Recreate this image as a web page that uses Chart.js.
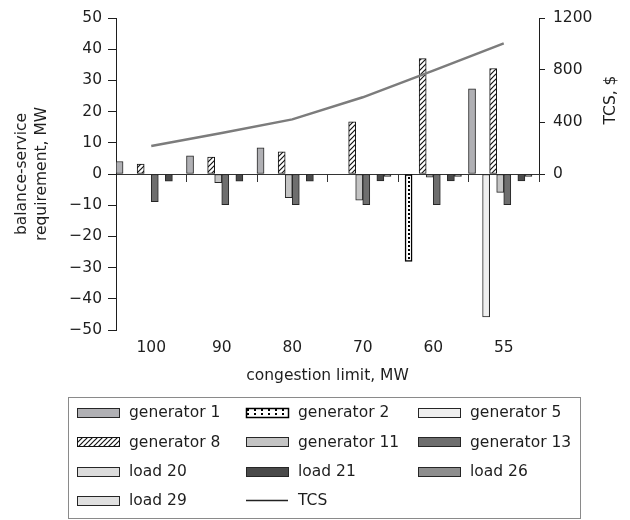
<!DOCTYPE html>
<html>
<head>
<meta charset="utf-8">
<script src="https://cdn.jsdelivr.net/npm/chart.js@4/dist/chart.umd.min.js"></script>
<style>
  html, body { margin: 0; padding: 0; background: #ffffff; }
  canvas { display: block; }
</style>
</head>
<body>
<canvas id="chart" width="630" height="520"></canvas>
<script>
// Congestion limits on the category axis
const categories = ['100', '90', '80', '70', '60', '55'];

// Balance-service requirement per unit, MW
const generator1  = [4.0, 5.8, 8.4, 0, 0, 27.3];
const generator2  = [0, 0, 0, 0, -28.0, 0];
const generator5  = [0, 0, 0, 0, 0, -45.8];
const generator8  = [3.2, 5.4, 7.1, 16.7, 37.0, 33.8];
const generator11 = [0, -2.8, -7.6, -8.4, -1.0, -5.9];
const generator13 = [-8.9, -9.8, -9.8, -9.8, -9.8, -9.8];
const load20      = [0, 0, 0, 0, 0, 0];
const load21      = [-2.3, -2.3, -2.3, -2.2, -2.2, -2.2];
const load26      = [0, 0, 0, -0.8, -0.8, -0.8];
const load29      = [0, 0, 0, 0, 0, 0];

// Total congestion cost, $
const tcs = [215, 315, 420, 590, 795, 1005];

// Axis tick values
const leftTicks  = [-50, -40, -30, -20, -10, 0, 10, 20, 30, 40, 50];
const rightTicks = [0, 400, 800, 1200];

const FONT = 'DejaVu Sans';
const INK = '#1e1e1e';

const canvas = document.getElementById('chart');
const ctx = canvas.getContext('2d');

// Diagonal hatch fill
const hatchFill = (() => {
  const s = 5;
  const t = document.createElement('canvas');
  t.width = s; t.height = s;
  const g = t.getContext('2d');
  g.fillStyle = '#ffffff'; g.fillRect(0, 0, s, s);
  g.strokeStyle = '#151515'; g.lineWidth = 1.2;
  g.beginPath();
  g.moveTo(-1, s + 1); g.lineTo(s + 1, -1);
  g.moveTo(-1, 1); g.lineTo(1, -1);
  g.moveTo(s - 1, s + 1); g.lineTo(s + 1, s - 1);
  g.stroke();
  return ctx.createPattern(t, 'repeat');
})();

// Dotted fill
const dotFill = (() => {
  const t = document.createElement('canvas');
  t.width = 7; t.height = 4;
  const g = t.getContext('2d');
  g.fillStyle = '#ffffff'; g.fillRect(0, 0, 7, 4);
  g.fillStyle = '#000000'; g.fillRect(2, 1, 2, 2);
  return ctx.createPattern(t, 'repeat');
})();

function barSet(label, data, fill, extra) {
  return Object.assign({
    type: 'bar',
    label: label,
    data: data,
    backgroundColor: fill,
    borderColor: '#262626',
    borderWidth: 1,
    borderSkipped: false,
    xAxisID: 'x',
    yAxisID: 'y',
    order: 1
  }, extra || {});
}

const datasets = [
  barSet('generator 1', generator1, '#b0b0b4'),
  barSet('generator 2', generator2, dotFill, { borderColor: '#000000', borderWidth: 1.5 }),
  barSet('generator 5', generator5, '#efefef'),
  barSet('generator 8', generator8, hatchFill, { borderColor: '#111111' }),
  barSet('generator 11', generator11, '#c4c4c4'),
  barSet('generator 13', generator13, '#6e6e6e'),
  barSet('load 20', load20, '#dcdcdc'),
  barSet('load 21', load21, '#4a4a4a'),
  barSet('load 26', load26, '#8e8e8e'),
  barSet('load 29', load29, '#e0e0e0'),
  {
    type: 'line',
    label: 'TCS',
    data: tcs,
    borderColor: '#7c7c7c',
    borderWidth: 2.5,
    pointRadius: 0,
    tension: 0,
    fill: false,
    xAxisID: 'x',
    yAxisID: 'y1',
    order: 0
  }
];

// Legend block geometry (3 columns x 4 rows)
const legendBox = { left: 68, top: 397, right: 580, bottom: 518 };
const legendCols = [77, 246, 418];
const legendRows = [412, 441.5, 471, 500];
const swatchW = 42, swatchH = 9, swatchGap = 10;

const decorations = {
  id: 'decorations',
  afterDraw(chart) {
    const c = chart.ctx;
    const y1 = chart.scales.y1;
    const topPx = y1.getPixelForValue(rightTicks[rightTicks.length - 1]);
    const zeroPx = y1.getPixelForValue(rightTicks[0]);

    c.save();
    // secondary axis spine, only over its positive range
    c.strokeStyle = INK; c.lineWidth = 1;
    const ax = Math.round(y1.left) + 0.5;
    c.beginPath(); c.moveTo(ax, topPx); c.lineTo(ax, zeroPx); c.stroke();

    // secondary axis title
    c.fillStyle = INK;
    c.font = '15.5px "' + FONT + '"';
    c.textAlign = 'center'; c.textBaseline = 'middle';
    c.save();
    c.translate(y1.right + 16, (topPx + zeroPx) / 2 + 4);
    c.rotate(-Math.PI / 2);
    c.fillText('TCS, $', 0, 0);
    c.restore();

    // legend frame
    c.strokeStyle = '#8a8a8a'; c.lineWidth = 1;
    c.strokeRect(legendBox.left + 0.5, legendBox.top + 0.5,
                 legendBox.right - legendBox.left, legendBox.bottom - legendBox.top);

    c.textAlign = 'left';
    chart.data.datasets.forEach((ds, i) => {
      const col = i % 3, row = Math.floor(i / 3);
      const x = legendCols[col], yc = legendRows[row];
      if (ds.type === 'line') {
        c.strokeStyle = '#222222'; c.lineWidth = 1.3;
        c.beginPath(); c.moveTo(x, yc + 0.5); c.lineTo(x + swatchW, yc + 0.5); c.stroke();
      } else {
        const sx = Math.round(x) + 0.5, sy = Math.round(yc - swatchH / 2) + 0.5;
        c.fillStyle = ds.backgroundColor;
        c.fillRect(sx, sy, swatchW, swatchH);
        c.strokeStyle = ds.borderColor; c.lineWidth = ds.borderWidth;
        c.strokeRect(sx, sy, swatchW, swatchH);
      }
      c.fillStyle = INK;
      c.fillText(ds.label, x + swatchW + swatchGap, yc + 1);
    });
    c.restore();
  }
};

const minus = v => (v < 0 ? '\u2212' + Math.abs(v) : String(v));

new Chart(canvas, {
  data: { labels: categories, datasets: datasets },
  options: {
    responsive: false,
    devicePixelRatio: 1,
    animation: false,
    layout: { padding: { left: 0, right: 35, top: 18, bottom: 130 } },
    font: { family: FONT, size: 15.5 },
    color: INK,
    plugins: {
      legend: { display: false },
      tooltip: { enabled: false }
    },
    scales: {
      x: {
        type: 'category',
        position: 'bottom',
        offset: true,
        grid: { display: false, drawTicks: false },
        border: { display: false },
        ticks: { color: INK, padding: 9, maxRotation: 0, font: { family: FONT, size: 15.5 } },
        title: {
          display: true, text: 'congestion limit, MW', color: INK,
          font: { family: FONT, size: 15.5 }, padding: { top: 0, bottom: 5 }
        },
        afterFit(scale) { scale.height = 60; }
      },
      x2: {
        type: 'category',
        labels: categories,
        position: { y: 0 },
        offset: true,
        grid: { offset: true, drawOnChartArea: false, drawTicks: true, tickLength: 7, color: '#333333', lineWidth: 1 },
        border: { display: true, color: '#333333', width: 1 },
        ticks: { display: false },
        afterFit(scale) { scale.height = 0; }
      },
      y: {
        type: 'linear',
        position: 'left',
        min: leftTicks[0],
        max: leftTicks[leftTicks.length - 1],
        afterBuildTicks(scale) { scale.ticks = leftTicks.map(v => ({ value: v })); },
        grid: { drawOnChartArea: false, drawTicks: true, tickLength: 8, color: INK },
        border: { display: true, color: INK, width: 1 },
        ticks: { color: INK, padding: 6, callback: minus, font: { family: FONT, size: 15.5 } },
        title: {
          display: true,
          text: ['balance-service', 'requirement, MW'],
          color: INK,
          font: { family: FONT, size: 15.5, lineHeight: 1.29 },
          padding: { top: 12, bottom: 0 }
        },
        afterFit(scale) { scale.width = 116; }
      },
      y1: {
        type: 'linear',
        position: 'right',
        min: -rightTicks[rightTicks.length - 1],
        max: rightTicks[rightTicks.length - 1],
        afterBuildTicks(scale) { scale.ticks = rightTicks.map(v => ({ value: v })); },
        grid: { drawOnChartArea: false, drawTicks: true, tickLength: 6, color: INK },
        border: { display: false },
        ticks: { color: INK, padding: 8, callback: v => String(v), font: { family: FONT, size: 15.5 } },
        afterFit(scale) { scale.width = 56; }
      }
    },
    datasets: {
      bar: { categoryPercentage: 1.0, barPercentage: 1.0 }
    }
  },
  plugins: [decorations]
});
</script>
</body>
</html>
